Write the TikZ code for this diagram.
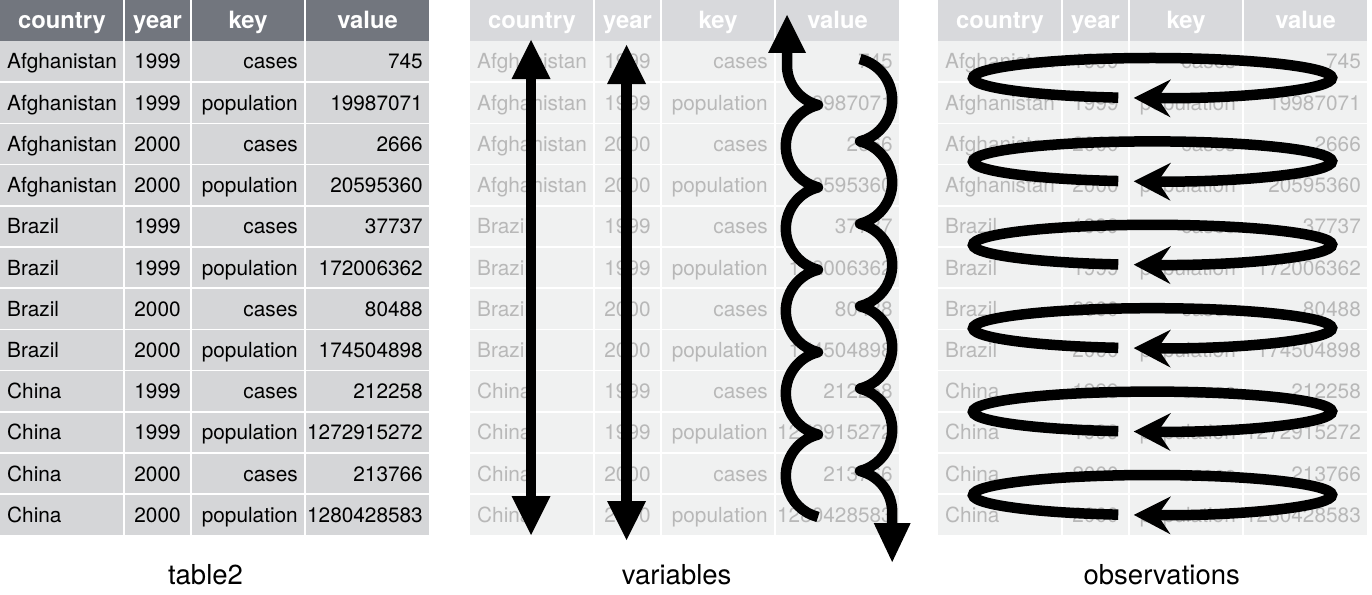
\documentclass[tikz,border=0pt]{standalone}
\usepackage{fontspec}
\setmainfont{TeX Gyre Heros}
\usepackage{tikz}
\usetikzlibrary{calc}
\usetikzlibrary{arrows.meta}

\definecolor{headdark}{RGB}{114,118,126}
\definecolor{bodydark}{RGB}{213,214,216}
\definecolor{headpale}{RGB}{216,217,220}
\definecolor{bodypale}{RGB}{240,241,241}
\definecolor{textpale}{RGB}{184,184,184}

\newcommand{\tidyrows}{1/Afghanistan/1999/cases/745, 2/Afghanistan/1999/population/19987071,
	3/Afghanistan/2000/cases/2666, 4/Afghanistan/2000/population/20595360,
	5/Brazil/1999/cases/37737, 6/Brazil/1999/population/172006362,
	7/Brazil/2000/cases/80488, 8/Brazil/2000/population/174504898,
	9/China/1999/cases/212258, 10/China/1999/population/1272915272,
	11/China/2000/cases/213766, 12/China/2000/population/1280428583}

\tikzset{
	headtext/.style={anchor=base, inner sep=0pt, text=white, font=\fontsize{23.8}{28}\selectfont\bfseries},
	celltext/.style={anchor=base, inner sep=0pt, font=\fontsize{20.8}{25}\selectfont},
	caption/.style={anchor=base, inner sep=0pt, font=\fontsize{27.5}{33}\selectfont},
	gridline/.style={draw=white, line width=1.6pt},
	colarrow/.style={line width=10.5pt, {Triangle[length=39pt,width=39pt,line width=0pt]}-{Triangle[length=39pt,width=39pt,line width=0pt]}},
	wave/.style={line width=10.5pt, line join=round},
	obsloop/.style={line width=10.5pt, -{Stealth[length=37pt,width=38pt,inset=13pt,line width=0pt]}}
}

\begin{document}
\begin{tikzpicture}[x=1pt, y=-1pt]
		\useasboundingbox (0,0) rectangle (1372,594);
		
		\foreach \tname/\ox/\hdfill/\bdfill/\txcol in {tA/0/headdark/bodydark/black, tB/470/headpale/bodypale/textpale, tC/938/headpale/bodypale/textpale} {
			\fill [\hdfill] (\ox,0) rectangle ++(429,41);
			\fill [\bdfill] (\ox,41) rectangle ++(429,494.4);
			\foreach \cx in {124,191,305} \draw [gridline] (\ox+\cx,0) -- ++(0,535.4);
			\foreach \rr in {1,...,11} \draw [gridline] (\ox,41+41.2*\rr) -- ++(429,0);
			\foreach \hx/\hlab in {62/country, 157.5/year, 248/key, 367.5/value}
				\node at (\ox+\hx,28.5) [headtext] (\tname-h-\hlab) {\hlab};
			\foreach \rr/\cname/\yname/\kname/\vname in \tidyrows {
				\node at (\ox+7,69+41.2*\rr-41.2) [celltext, anchor=base west, text=\txcol] (\tname-ctry-\rr) {\cname};
				\node at (\ox+157.5,69+41.2*\rr-41.2) [celltext, text=\txcol] (\tname-year-\rr) {\yname};
				\node at (\ox+298,69+41.2*\rr-41.2) [celltext, anchor=base east, text=\txcol] (\tname-key-\rr) {\kname};
				\node at (\ox+423,69+41.2*\rr-41.2) [celltext, anchor=base east, text=\txcol] (\tname-val-\rr) {\vname};
			}
		}
		
		\node at (205.5,584) [caption] (cap-table) {table2};
		\node at (676.7,584) [caption] (cap-var) {variables};
		\node at (1161.7,584) [caption] (cap-obs) {observations};
		
		% variables: one straight arrow per column, value column zig-zags
		\coordinate (ctry-top) at (531,40);
		\coordinate (ctry-bot) at (531,535);
		\coordinate (year-top) at (626.5,45);
		\coordinate (year-bot) at (626.5,540);
		\draw [colarrow] (ctry-top) -- (ctry-bot);
		\draw [colarrow] (year-top) -- (year-bot);
		
		\coordinate (val-up) at (787,15);
		\coordinate (val-start) at (860,59);
		\coordinate (val-down) at (892.2,562);
		\draw [wave, {Triangle[length=38pt,width=38pt,line width=0pt]}-] (val-up) -- ++(0,50.3)
			arc [start angle=180, end angle=104, radius=40.9]
			\foreach \k in {1,...,5} {arc [start angle=256, end angle=104, radius=42.46]};
		\draw [wave, -{Triangle[length=39pt,width=37pt,line width=0pt]}] (val-start)
			\foreach \k in {1,...,5} {arc [start angle=-76, end angle=76, radius=42.46]}
			arc [start angle=-76, end angle=0, radius=42.46] -- (val-down);
		
		% observations: one loop per pair of rows
		\foreach \k in {0,...,5} {
			\coordinate (obs-\k) at (1152.5,78+83.4*\k);
			\draw [obsloop] ($(obs-\k)+(101:179.5 and 20)$) arc [start angle=101, end angle=456, x radius=179.5, y radius=20];
		}
		
\end{tikzpicture}
\end{document}
